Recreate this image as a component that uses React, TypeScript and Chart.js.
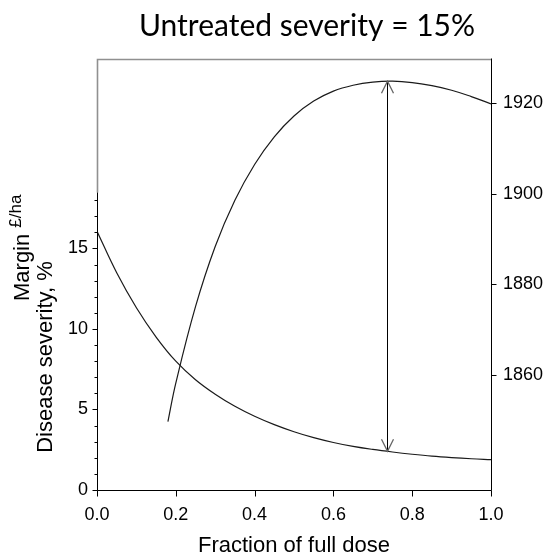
import React, { useEffect, useRef } from 'react';
import { Chart, registerables } from 'chart.js';

Chart.register(...registerables);

// ---- text ----
const TITLE = 'Untreated severity = 15%';
const X_TITLE = 'Fraction of full dose';
const Y_TITLE = 'Disease severity, %';
const Y2_TITLE_MAIN = 'Margin';
const Y2_TITLE_SUP = '£/ha';

// ---- ticks ----
const X_TICKS = [0, 0.2, 0.4, 0.6, 0.8, 1.0];
const Y_TICKS = [0, 5, 10, 15];
const Y_MINOR_TICKS = [0, 1, 2, 3, 4, 5, 6, 7, 8, 9, 10, 11, 12, 13, 14, 15, 16, 17, 18];
const Y2_TICKS = [1860, 1880, 1900, 1920];

// ---- axis ranges ----
const X_MIN = 0;
const X_MAX = 1;
const Y_MIN = 0;
const Y_MAX = 26.77;
const Y_AXIS_END = 18.5;
const Y2_MIN = 1834.6;
const Y2_MAX = 1929.8;

// ---- data ----
const DISEASE_DOSE = [0, 0.05, 0.1, 0.15, 0.2, 0.25, 0.3, 0.35, 0.4, 0.45, 0.5, 0.55, 0.6, 0.65, 0.7, 0.75, 0.8, 0.85, 0.9, 0.95, 1.0];
const DISEASE = [16.07, 13.49, 11.32, 9.5, 8.0, 6.85, 5.95, 5.2, 4.58, 4.06, 3.62, 3.25, 2.95, 2.71, 2.52, 2.36, 2.22, 2.1, 2.01, 1.94, 1.89];

const MARGIN_DOSE = [0.18, 0.2, 0.25, 0.3, 0.35, 0.4, 0.45, 0.5, 0.55, 0.6, 0.65, 0.7, 0.75, 0.8, 0.85, 0.9, 0.95, 1.0];
const MARGIN = [1849.7, 1858.2, 1875.1, 1888.4, 1898.6, 1906.5, 1912.6, 1917.2, 1920.5, 1922.7, 1924.0, 1924.7, 1924.9, 1924.6, 1923.9, 1922.9, 1921.5, 1919.9];

// optimum dose marked by the double arrow, and the values it joins
const ARROW_DOSE = 0.735;
const ARROW_MARGIN = 1924.9;
const ARROW_SEVERITY = 2.41;

const FONT = "'Liberation Sans', Arial, sans-serif";

const decorPlugin = {
  id: 'decor',
  afterDraw(chart: any) {
    const { ctx, chartArea: a, scales } = chart;
    const xs = scales.x;
    const ys = scales.y;
    const y2s = scales.y2;
    const L = Math.round(a.left) + 0.5;
    const R = Math.round(a.right) + 0.5;
    const T = Math.round(a.top) + 0.5;
    const B = Math.round(a.bottom) + 0.5;
    ctx.save();

    // gray frame (top and upper left)
    const yEnd = Math.round(ys.getPixelForValue(Y_AXIS_END)) + 0.5;
    ctx.strokeStyle = '#909090';
    ctx.lineWidth = 1.6;
    ctx.beginPath();
    ctx.moveTo(L, yEnd);
    ctx.lineTo(L, T);
    ctx.lineTo(R, T);
    ctx.stroke();

    // black axes
    ctx.strokeStyle = '#000';
    ctx.lineWidth = 1;
    ctx.beginPath();
    ctx.moveTo(L, yEnd);
    ctx.lineTo(L, B);
    ctx.lineTo(R, B);
    ctx.moveTo(R, T - 1);
    ctx.lineTo(R, B);
    // left ticks
    Y_MINOR_TICKS.forEach((v) => {
      const p = Math.round(ys.getPixelForValue(v)) + 0.5;
      const len = Y_TICKS.includes(v) ? 5 : 3;
      ctx.moveTo(L - len, p);
      ctx.lineTo(L, p);
    });
    // right ticks
    Y2_TICKS.forEach((v) => {
      const p = Math.round(y2s.getPixelForValue(v)) + 0.5;
      ctx.moveTo(R, p);
      ctx.lineTo(R + 5, p);
    });
    // bottom ticks
    X_TICKS.forEach((v) => {
      const p = Math.round(xs.getPixelForValue(v)) + 0.5;
      ctx.moveTo(p, B);
      ctx.lineTo(p, B + 6);
    });
    ctx.stroke();

    // double arrow
    const ax = Math.round(xs.getPixelForValue(ARROW_DOSE)) + 0.5;
    const aTop = y2s.getPixelForValue(ARROW_MARGIN);
    const aBot = ys.getPixelForValue(ARROW_SEVERITY);
    ctx.strokeStyle = '#000';
    ctx.lineWidth = 1;
    ctx.beginPath();
    ctx.moveTo(ax, aTop);
    ctx.lineTo(ax, aBot);
    ctx.stroke();
    ctx.strokeStyle = '#666';
    ctx.lineWidth = 1.3;
    ctx.beginPath();
    ctx.moveTo(ax - 6, aTop + 12);
    ctx.lineTo(ax, aTop);
    ctx.lineTo(ax + 6, aTop + 12);
    ctx.moveTo(ax - 6, aBot - 12);
    ctx.lineTo(ax, aBot);
    ctx.lineTo(ax + 6, aBot - 12);
    ctx.stroke();

    // title
    ctx.fillStyle = '#000';
    ctx.font = "30px Lato, 'Open Sans', sans-serif";
    ctx.textAlign = 'center';
    ctx.textBaseline = 'alphabetic';
    ctx.fillText(TITLE, 307, 36);

    // x title
    ctx.font = `22px ${FONT}`;
    ctx.textAlign = 'center';
    ctx.fillText(X_TITLE, (a.left + a.right) / 2, 552);

    // y titles (rotated)
    ctx.save();
    ctx.translate(52, 357);
    ctx.rotate(-Math.PI / 2);
    ctx.textAlign = 'center';
    ctx.font = `22px ${FONT}`;
    ctx.fillText(Y_TITLE, 0, 0);
    ctx.restore();

    ctx.save();
    ctx.translate(29, 301);
    ctx.rotate(-Math.PI / 2);
    ctx.textAlign = 'left';
    ctx.font = `22px ${FONT}`;
    ctx.fillText(Y2_TITLE_MAIN, 0, 0);
    const w = ctx.measureText(Y2_TITLE_MAIN + ' ').width;
    ctx.font = `17px ${FONT}`;
    ctx.fillText(Y2_TITLE_SUP, w, -8);
    ctx.restore();

    ctx.restore();
  },
};

export default function App() {
  const ref = useRef<HTMLCanvasElement | null>(null);

  useEffect(() => {
    document.body.style.margin = '0';
    const canvas = ref.current;
    if (!canvas) return;
    const tickFont = { family: FONT, size: 18 };
    const chart = new Chart(canvas, {
      type: 'line',
      data: {
        datasets: [
          {
            label: 'Disease severity',
            data: DISEASE_DOSE.map((d, i) => ({ x: d, y: DISEASE[i] })),
            yAxisID: 'y',
            borderColor: '#1a1a1a',
            borderWidth: 1.2,
            pointRadius: 0,
            fill: false,
            tension: 0.4,
          },
          {
            label: 'Margin',
            data: MARGIN_DOSE.map((d, i) => ({ x: d, y: MARGIN[i] })),
            yAxisID: 'y2',
            borderColor: '#1a1a1a',
            borderWidth: 1.2,
            pointRadius: 0,
            fill: false,
            tension: 0.4,
          },
        ],
      },
      options: {
        animation: false,
        responsive: false,
        maintainAspectRatio: false,
        layout: { padding: { top: 59, left: 0, right: 0, bottom: 0 } },
        plugins: {
          legend: { display: false },
          title: { display: false },
          tooltip: { enabled: false },
        },
        scales: {
          x: {
            type: 'linear',
            min: X_MIN,
            max: X_MAX,
            grid: { display: false, drawTicks: false },
            border: { display: false },
            ticks: {
              stepSize: 0.2,
              font: tickFont,
              color: '#000',
              padding: 14,
              maxRotation: 0,
              callback: (v: any) => Number(v).toFixed(1),
            },
            afterFit: (s: any) => {
              s.height = 66;
            },
          },
          y: {
            type: 'linear',
            position: 'left',
            min: Y_MIN,
            max: Y_MAX,
            grid: { display: false, drawTicks: false },
            border: { display: false },
            ticks: {
              stepSize: 1,
              autoSkip: false,
              font: tickFont,
              color: '#000',
              padding: 9,
              callback: (v: any) => (Y_TICKS.includes(Number(v)) ? String(v) : ''),
            },
            afterFit: (s: any) => {
              s.width = 97;
            },
          },
          y2: {
            type: 'linear',
            position: 'right',
            min: Y2_MIN,
            max: Y2_MAX,
            grid: { display: false, drawTicks: false },
            border: { display: false },
            ticks: {
              stepSize: 20,
              autoSkip: false,
              font: tickFont,
              color: '#000',
              padding: 12,
              callback: (v: any) => (Y2_TICKS.includes(Number(v)) ? String(v) : ''),
            },
            afterFit: (s: any) => {
              s.width = 54;
            },
          },
        },
      },
      plugins: [decorPlugin],
    } as any);
    return () => chart.destroy();
  }, []);

  return (
    <div style={{ position: 'absolute', left: 0, top: 0, width: 545, height: 556, background: '#fff' }}>
      <canvas ref={ref} width={545} height={556} style={{ width: 545, height: 556, display: 'block' }} />
    </div>
  );
}
